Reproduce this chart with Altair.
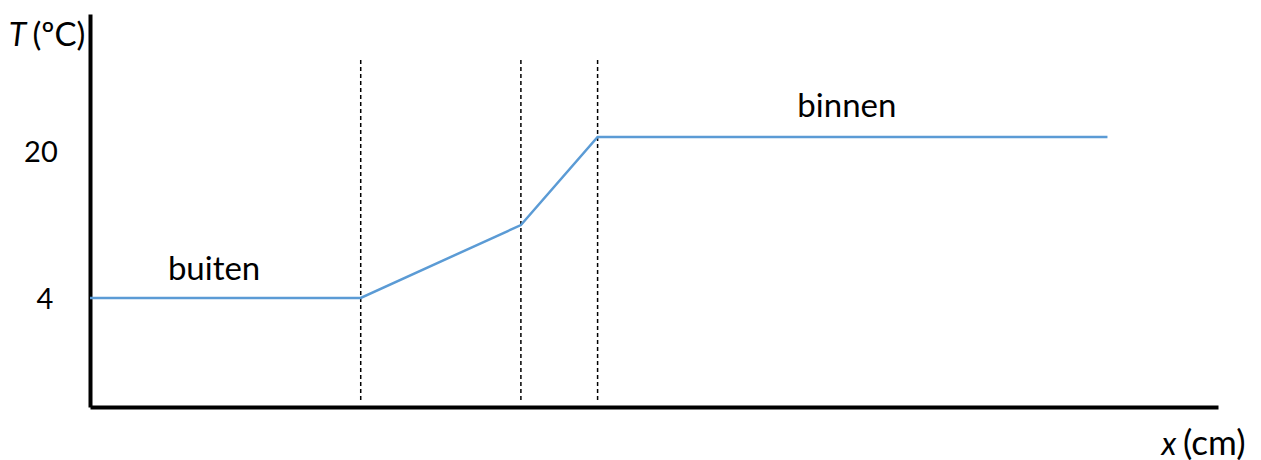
import altair as alt
import pandas as pd

# temperature profile (x in arbitrary cm units, T in °C)
x_pos = [0.0, 24.0, 38.2, 45.0, 90.2]
temp = [4.0, 4.0, 11.25, 20.0, 20.0]

# layer boundaries (dashed)
boundaries = [24.0, 38.2, 45.0]
dash_top = 27.65
dash_bottom = -6.3

# y labels
ylab_text = ["20", "4"]
ylab_x = [-4.35, -4.0]
ylab_y = [17.55, 2.9]

# region labels
reg_text = ["buiten", "binnen"]
reg_x = [11.0, 67.1]
reg_y = [5.8, 22.0]

X_DOM = [0, 100]
Y_DOM = [-6.83, 32.22]
FONT = "Lato"

xs = alt.Scale(domain=X_DOM, nice=False, zero=False)
ys = alt.Scale(domain=Y_DOM, nice=False, zero=False)

ax_x = alt.Axis(domain=True, domainColor="black", domainWidth=4, ticks=False,
                labels=False, title=None, grid=False)
ax_y = alt.Axis(domain=True, domainColor="black", domainWidth=4, ticks=False,
                labels=False, title=None, grid=False)

df_line = pd.DataFrame({"x": x_pos, "T": temp})
line = alt.Chart(df_line).mark_line(color="#5B9BD5", strokeWidth=2.5).encode(
    x=alt.X("x:Q", scale=xs, axis=ax_x),
    y=alt.Y("T:Q", scale=ys, axis=ax_y),
)

df_b = pd.DataFrame({"x": boundaries, "y1": [dash_top] * 3, "y2": [dash_bottom] * 3})
rules = alt.Chart(df_b).mark_rule(color="black", strokeWidth=1.5, strokeDash=[4, 3]).encode(
    x=alt.X("x:Q", scale=xs),
    y=alt.Y("y1:Q", scale=ys),
    y2="y2:Q",
)

def text_layer(texts, xv, yv, align="center", style="normal", fs=29):
    df = pd.DataFrame({"x": xv, "y": yv, "t": texts})
    return alt.Chart(df).mark_text(
        align=align, baseline="alphabetic", font=FONT, fontSize=fs,
        fontStyle=style, color="black",
    ).encode(x=alt.X("x:Q", scale=xs), y=alt.Y("y:Q", scale=ys), text="t:N")

ylabels = text_layer(ylab_text, ylab_x, ylab_y, fs=29)
regions = text_layer(reg_text, reg_x, reg_y, fs=33)
t_ital = text_layer(["T"], [-7.2], [29.0], align="left", style="italic", fs=32)
t_unit = text_layer(["(ºC)"], [-5.1], [29.0], align="left", fs=33)
x_ital = text_layer(["x"], [96.3], [-11.6], align="right", style="italic", fs=32)
x_unit = text_layer(["(cm)"], [96.9], [-11.6], align="left", fs=35)

chart = alt.layer(rules, line, ylabels, regions, t_ital, t_unit, x_ital, x_unit).properties(
    width=1128, height=393,
    autosize=alt.AutoSizeParams(type="none"),
    padding={"left": 82, "top": 6, "right": 33, "bottom": 56},
    background="white",
).configure_view(stroke=None)

chart.save("out.html", embed_options={"renderer": "svg", "actions": False})
